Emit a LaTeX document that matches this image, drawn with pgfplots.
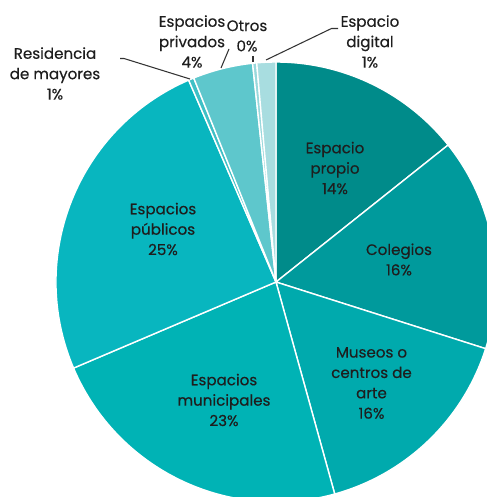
\documentclass[border=0pt]{standalone}
\usepackage{pgfplots}
\pgfplotsset{compat=1.18}
\usepackage{fontspec}
\setmainfont{Poppins}[FakeBold=0.4]
\definecolor{cPropio}{HTML}{008B8A}
\definecolor{cColegios}{HTML}{009A9C}
\definecolor{cMuseos}{HTML}{00AAAD}
\definecolor{cMunicipales}{HTML}{00B3B5}
\definecolor{cPublicos}{HTML}{08B6BF}
\definecolor{cResidencia}{HTML}{3EC0C6}
\definecolor{cPrivados}{HTML}{5EC7CC}
\definecolor{cOtros}{HTML}{98D8DC}
\definecolor{cDigital}{HTML}{A8DDE0}
\definecolor{txt}{HTML}{1E1E1E}
\tikzset{lbl/.style={font=\fontsize{8.6}{11.6}\selectfont, text=txt, align=center, inner sep=0pt}}
% slice: start (cumulative %), value (%), colour
\newcommand{\slice}[3]{%
  \fill[#3, draw=white, line width=0.8pt] (axis cs:5.52,4.30) -- ++({90-(#1)*3.6}:4.4)
    arc[start angle={90-(#1)*3.6}, end angle={90-(#1+#2)*3.6}, radius=4.4] -- cycle;}
\begin{document}
\begin{tikzpicture}
\begin{axis}[x=1cm, y=1cm, xmin=0, xmax=9.74, ymin=0, ymax=9.94,
  hide axis, clip=true]
\slice{0}{14.3}{cPropio}
\slice{14.3}{15.6}{cColegios}
\slice{29.9}{15.8}{cMuseos}
\slice{45.7}{22.9}{cMunicipales}
\slice{68.6}{24.9}{cPublicos}
\slice{93.5}{0.4}{cResidencia}
\slice{93.9}{4.4}{cPrivados}
\slice{98.3}{0.3}{cOtros}
\slice{98.6}{1.4}{cDigital}
% leader lines
\draw[black!80, line width=0.6pt] (axis cs:2.40,8.77) -- (axis cs:2.48,8.77) -- (axis cs:3.80,8.36);
\draw[black!80, line width=0.6pt] (axis cs:4.58,8.96) -- (axis cs:4.42,8.58);
\draw[black!80, line width=0.6pt] (axis cs:5.06,8.82) -- (axis cs:5.06,8.70);
\draw[black!80, line width=0.6pt] (axis cs:5.32,8.74) -- (axis cs:6.63,9.37) -- (axis cs:6.76,9.37);
% labels
\node[lbl] at (axis cs:6.70,6.58) {Espacio\\propio\\14\%};
\node[lbl] at (axis cs:7.98,4.75) {Colegios\\16\%};
\node[lbl] at (axis cs:7.43,2.28) {Museos o\\centros de\\arte\\16\%};
\node[lbl] at (axis cs:4.48,1.94) {Espacios\\municipales\\23\%};
\node[lbl] at (axis cs:3.26,5.36) {Espacios\\públicos\\25\%};
\node[lbl] at (axis cs:1.10,8.47) {Residencia\\de mayores\\1\%};
\node[lbl] at (axis cs:3.84,9.11) {Espacios\\privados\\4\%};
\node[lbl] at (axis cs:4.94,9.22) {Otros\\0\%};
\node[lbl] at (axis cs:7.40,9.11) {Espacio\\digital\\1\%};
\end{axis}
\pgfresetboundingbox
\path (current axis.south west) rectangle (current axis.north east);
\end{tikzpicture}
\end{document}
